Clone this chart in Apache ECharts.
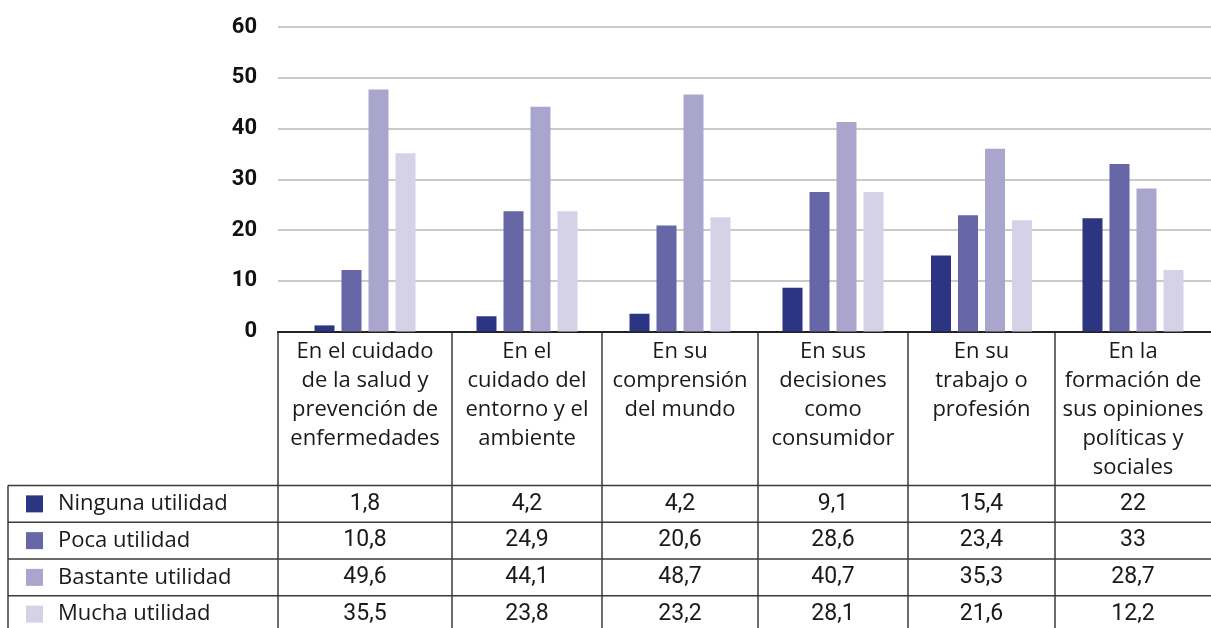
<!DOCTYPE html>
<html>
<head>
<meta charset="utf-8">
<script src="https://cdn.jsdelivr.net/npm/echarts@6/dist/echarts.min.js"></script>
<style>
  html, body { margin: 0; padding: 0; background: #fff; }
  #chart { width: 1211px; height: 628px; }
</style>
</head>
<body>
<div id="chart"></div>
<script>
// categories (column headers of the table)
const categories = [
  "En el cuidado\nde la salud y\nprevención de\nenfermedades",
  "En el\ncuidado del\nentorno y el\nambiente",
  "En su\ncomprensión\ndel mundo",
  "En sus\ndecisiones\ncomo\nconsumidor",
  "En su\ntrabajo o\nprofesión",
  "En la\nformación de\nsus opiniones\npolíticas y\nsociales"
];
const seriesNames = ["Ninguna utilidad", "Poca utilidad", "Bastante utilidad", "Mucha utilidad"];
const colors = ["#2b3582", "#6766a6", "#a9a5cd", "#d5d2e8"];

// bar heights as drawn in the picture
const ninguna = [1.2, 3.0, 3.5, 8.6, 15.0, 22.3];
const poca = [12.1, 23.7, 20.9, 27.5, 22.9, 33.0];
const bastante = [47.7, 44.3, 46.7, 41.3, 36.0, 28.2];
const mucha = [35.1, 23.7, 22.5, 27.5, 21.9, 12.1];

// values printed in the table
const tNinguna = [1.8, 4.2, 4.2, 9.1, 15.4, 22];
const tPoca = [10.8, 24.9, 20.6, 28.6, 23.4, 33];
const tBastante = [49.6, 44.1, 48.7, 40.7, 35.3, 28.7];
const tMucha = [35.5, 23.8, 23.2, 28.1, 21.6, 12.2];

const yTicks = [0, 10, 20, 30, 40, 50, 60];

const barData = [ninguna, poca, bastante, mucha];
const tableData = [tNinguna, tPoca, tBastante, tMucha];

// layout
const TEXT_FONT = "Open Sans";
const NUM_FONT = "Roboto";
const gridLeft = 278;
const gridTop = 27;
const axisY = 331.5;
const colWidths = [174, 150, 156, 150, 147, 156];
const headerBottom = 485.5;
const rowH = 36.75;
const tableLeft = 8;
const lineColor = "#3a3a3a";

const colEdges = [gridLeft];
colWidths.forEach(w => colEdges.push(colEdges[colEdges.length - 1] + w));

const chart = echarts.init(document.getElementById("chart"), null, { renderer: "canvas" });

const grids = [], xAxes = [], yAxes = [], series = [];
colWidths.forEach((w, g) => {
  grids.push({ left: colEdges[g], top: gridTop, width: w, height: axisY - gridTop });
  xAxes.push({
    type: "category",
    gridIndex: g,
    data: [categories[g]],
    boundaryGap: true,
    axisLine: { show: true, lineStyle: { color: "#222", width: 2 } },
    axisTick: { show: false },
    axisLabel: {
      interval: 0,
      margin: 6,
      verticalAlign: "top",
      lineHeight: 29,
      fontSize: 22,
      fontFamily: TEXT_FONT,
      color: "#1a1a1a"
    }
  });
  yAxes.push({
    type: "value",
    gridIndex: g,
    min: yTicks[0],
    max: yTicks[yTicks.length - 1],
    interval: 10,
    axisLine: { show: false },
    axisTick: { show: false },
    axisLabel: {
      show: g === 0,
      margin: 21,
      fontSize: 22,
      fontWeight: "bold",
      fontFamily: NUM_FONT,
      color: "#111"
    },
    splitLine: { show: true, lineStyle: { color: "#b8b8b8", width: 1.5 } }
  });
  seriesNames.forEach((name, s) => {
    series.push({
      type: "bar",
      name: name,
      xAxisIndex: g,
      yAxisIndex: g,
      data: [barData[s][g]],
      barWidth: 20,
      barGap: "35%",
      itemStyle: { color: colors[s] },
      silent: true
    });
  });
});

// table drawn underneath the chart
const graphics = [];
const line = (x1, y1, x2, y2) => graphics.push({
  type: "line",
  shape: { x1, y1, x2, y2 },
  style: { stroke: lineColor, lineWidth: 1.5 },
  silent: true
});
const tableBottom = headerBottom + rowH * seriesNames.length;
for (let r = 0; r <= seriesNames.length; r++) {
  const y = headerBottom + r * rowH;
  line(tableLeft, y, colEdges[colEdges.length - 1], y);
}
line(tableLeft, headerBottom, tableLeft, tableBottom);
colEdges.slice(0, -1).forEach(x => line(x, axisY, x, tableBottom));

seriesNames.forEach((name, s) => {
  const cy = headerBottom + s * rowH + rowH / 2;
  graphics.push({
    type: "rect",
    shape: { x: 26, y: cy - 8.5, width: 17, height: 17 },
    style: { fill: colors[s] },
    silent: true
  });
  graphics.push({
    type: "text",
    x: 58, y: cy,
    style: { text: name, fontSize: 22, fontFamily: TEXT_FONT, fill: "#1a1a1a", verticalAlign: "middle" },
    silent: true
  });
  tableData[s].forEach((v, g) => {
    graphics.push({
      type: "text",
      x: (colEdges[g] + colEdges[g + 1]) / 2, y: cy,
      style: {
        text: String(v).replace(".", ","),
        fontSize: 23, fontFamily: NUM_FONT, fill: "#1a1a1a",
        align: "center", verticalAlign: "middle"
      },
      silent: true
    });
  });
});

chart.setOption({
  animation: false,
  grid: grids,
  xAxis: xAxes,
  yAxis: yAxes,
  series: series,
  graphic: graphics
});
</script>
</body>
</html>
